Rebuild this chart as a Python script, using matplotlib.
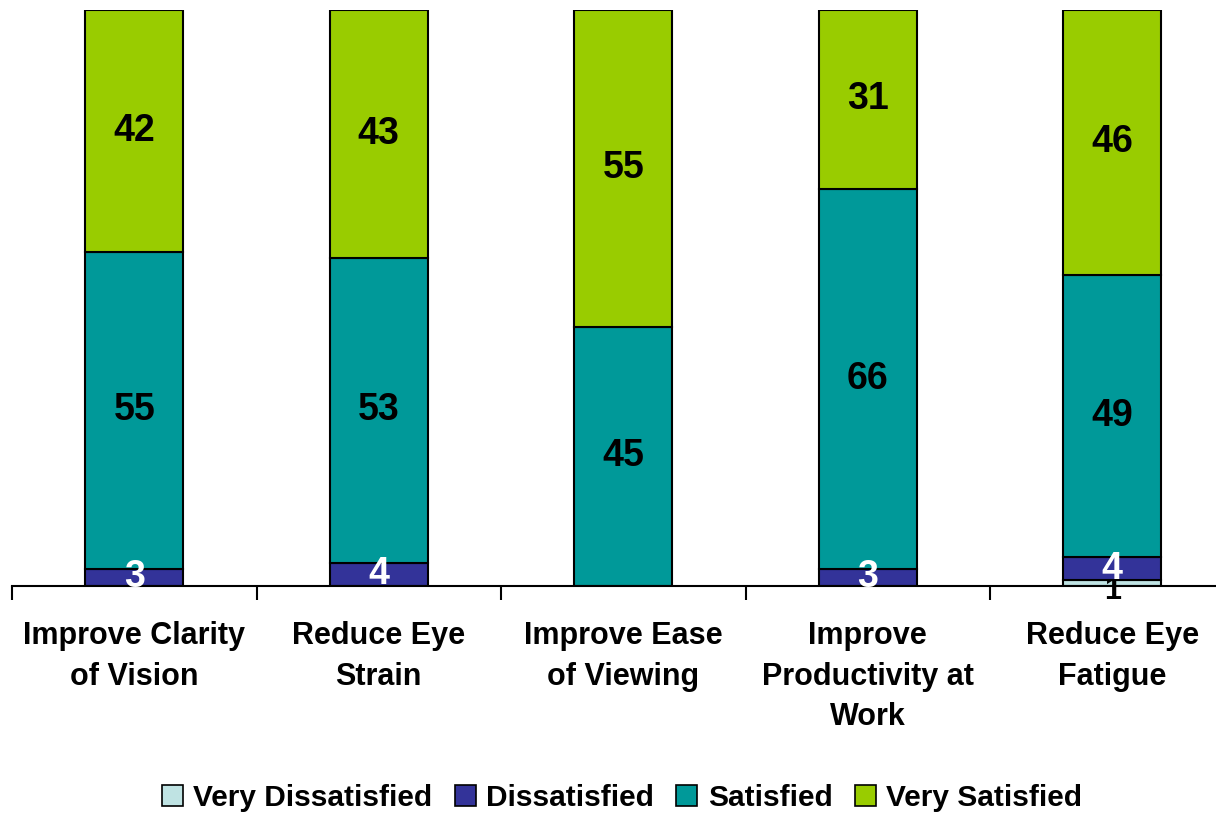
import numpy as np
import matplotlib.pyplot as plt
from matplotlib.patches import Patch

plt.rcParams['font.family'] = ['Liberation Sans', 'DejaVu Sans']
plt.rcParams['font.weight'] = 'bold'

categories = ['Improve Clarity\nof Vision', 'Reduce Eye\nStrain', 'Improve Ease\nof Viewing',
              'Improve\nProductivity at\nWork', 'Reduce Eye\nFatigue']
series_names = ['Very Dissatisfied', 'Dissatisfied', 'Satisfied', 'Very Satisfied']
very_dissatisfied = [0, 0, 0, 0, 1]
dissatisfied = [3, 4, 0, 3, 4]
satisfied = [55, 53, 45, 66, 49]
very_satisfied = [42, 43, 55, 31, 46]

colors = ['#BFE3E3', '#333399', '#009999', '#99CC00']
label_colors = ['black', 'white', 'black', 'black']

fig = plt.figure(figsize=(12.16, 8.15), dpi=100)
# axis runs a little past the right edge, as in the original sheet
ax = fig.add_axes([12 / 1216, 1 - 586 / 815, 1222.5 / 1216, 576 / 815])

x = np.arange(len(categories))
series = [very_dissatisfied, dissatisfied, satisfied, very_satisfied]
bottom = np.zeros(len(categories))
for i, vals in enumerate(series):
    vals = np.array(vals, dtype=float)
    ax.bar(x, vals, 0.4, bottom=bottom, color=colors[i], edgecolor='black',
           linewidth=1.5, zorder=2 if i == 0 else 3)
    for xi, b, v in zip(x, bottom, vals):
        if v <= 0:
            continue
        if i == 0:
            # tiny segment: label sits just under the bar, partly hidden
            ax.text(xi, b - 0.8, '%d' % v, ha='center', va='center', fontsize=22,
                    fontweight='bold', color=label_colors[i], zorder=2.5)
        else:
            ax.text(xi, b + v / 2, '%d' % v, ha='center', va='center', fontsize=27,
                    fontweight='bold', color=label_colors[i], zorder=5)
    bottom += vals

ax.set_xlim(-0.5, len(categories) - 0.5)
ax.set_ylim(0, 100)
ax.set_yticks([])
for s in ['top', 'right', 'left']:
    ax.spines[s].set_visible(False)
ax.spines['bottom'].set_linewidth(1.5)
ax.spines['bottom'].set_zorder(4)

# ticks sit between the categories, labels at the centres
ax.set_xticks(np.arange(len(categories) + 1) - 0.5)
ax.set_xticklabels([])
ax.tick_params(axis='x', length=10, width=1.5, direction='out')
ax.set_xticks(x, minor=True)
ax.set_xticklabels(categories, minor=True, fontsize=22, fontweight='bold', linespacing=1.47)
ax.tick_params(axis='x', which='minor', length=0, pad=25)
for t in ax.get_xticklabels(minor=True):
    t.set_verticalalignment('top')

handles = [Patch(facecolor=c, edgecolor='black', linewidth=1.2) for c in colors]
fig.legend(handles, series_names, loc='center', bbox_to_anchor=(622 / 1216, 1 - 798 / 815),
           ncol=4, frameon=False, handlelength=0.7, handleheight=0.7,
           handletextpad=0.35, columnspacing=0.75, prop={'weight': 'bold', 'size': 21.5})

fig.savefig('out.png', dpi=100)
